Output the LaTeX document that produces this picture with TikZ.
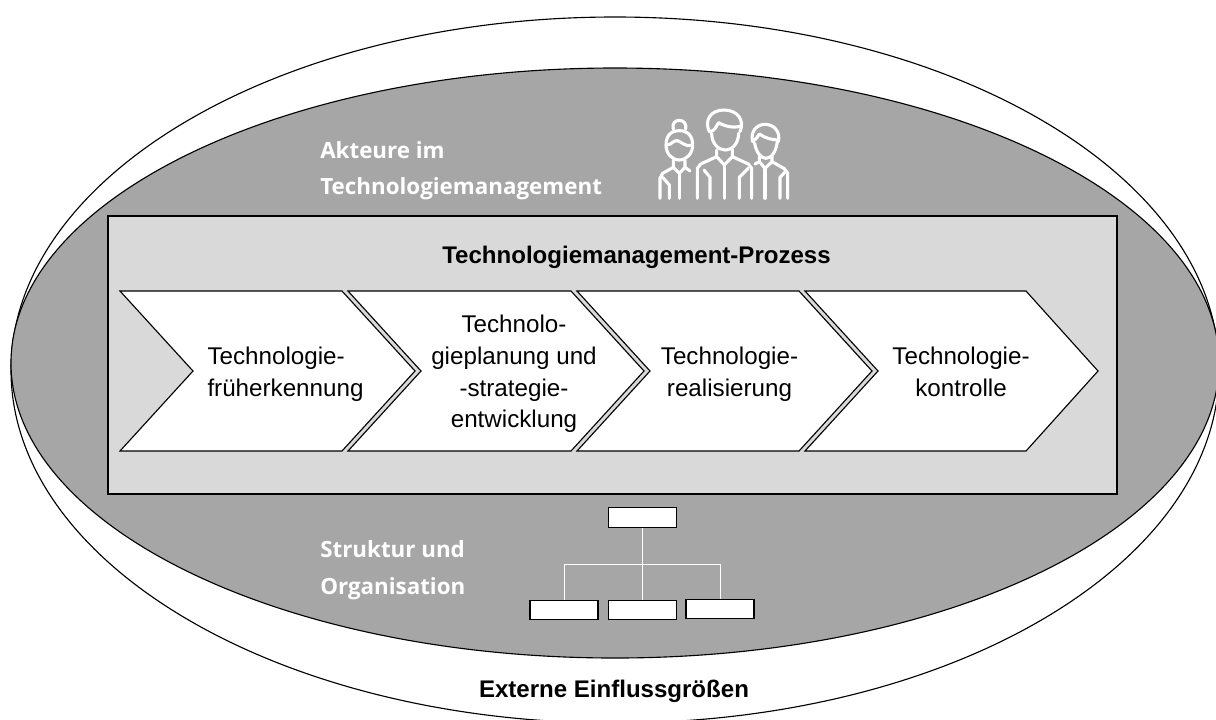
\documentclass[tikz,border=0pt]{standalone}
\usepackage{fontspec}
\setmainfont{Liberation Sans}
\newfontfamily\labelfont{Open Sans}
\usepackage{tikz}
\definecolor{ovalgray}{HTML}{A6A6A6}
\definecolor{panelgray}{HTML}{D9D9D9}
\tikzset{
  chevron/.style={draw=black,fill=white,line width=0.8pt},
  steplabel/.style={align=center,inner sep=0pt,font=\fontsize{17.2}{22.6}\selectfont},
  boldlabel/.style={font=\bfseries\fontsize{17.1}{20}\selectfont},
  whitelabel/.style={anchor=west,align=left,inner sep=0pt,text=white,font=\labelfont\bfseries\fontsize{15.9}{26}\selectfont},
  orgbox/.style={draw=black,fill=white,line width=0.8pt,minimum width=1.7cm,minimum height=0.48cm,inner sep=0pt},
  orgline/.style={draw=white,line width=0.7pt},
  person/.style={draw=white,line width=2.2pt,line cap=round,line join=round}
}
\begin{document}
\begin{tikzpicture}[x=0.025cm,y=-0.025cm]
\useasboundingbox (0,0) rectangle (1216,719);
\clip (0,0) rectangle (1216,719);
\draw [black,line width=0.8pt] (615,370) ellipse [x radius=604,y radius=353];
\filldraw [draw=black,fill=ovalgray,line width=0.8pt] (615,363) ellipse [x radius=604,y radius=295];
\filldraw [draw=black,fill=panelgray,line width=0.8pt] (108,216) rectangle (1117,494);

\node [boldlabel] (title) at (636.5,257.5) {Technologiemanagement-Prozess};

\filldraw [chevron] (120,291) -- (342,291) -- (415,371) -- (342,451) -- (120,451) -- (193,371) -- cycle;
\filldraw [chevron] (348,291) -- (571,291) -- (644,371) -- (571,451) -- (348,451) -- (421,371) -- cycle;
\filldraw [chevron] (577,291) -- (799,291) -- (872,371) -- (799,451) -- (577,451) -- (650,371) -- cycle;
\filldraw [chevron] (805,291) -- (1026,291) -- (1098,371) -- (1026,451) -- (805,451) -- (878,371) -- cycle;

\node [steplabel,align=left] (frueh) at (285.5,374) {Technologie-\\früherkennung};
\node [steplabel] (planung) at (514,374) {Technolo-\\gieplanung und\\-strategie-\\entwicklung};
\node [steplabel] (real) at (729.5,374) {Technologie-\\realisierung};
\node [steplabel] (kontrolle) at (961,372) {Technologie-\\kontrolle};

\node [whitelabel] (akteure) at (320,170.5) {Akteure im\\Technologiemanagement};
\node [whitelabel] (struktur) at (320,570) {Struktur und\\Organisation};
\node [boldlabel] (extern) at (614,691) {Externe Einflussgrößen};

\node [orgbox] (chef) at (642.5,517.5) {};
\node [orgbox] (orga) at (564,610) {};
\node [orgbox] (orgb) at (642.5,610) {};
\node [orgbox] (orgc) at (720,609) {};
\coordinate (bus) at (642.5,564);
\draw [orgline] (chef) -- (orgb);
\draw [orgline] (orga) |- (bus);
\draw [orgline] (orgc) |- (bus);

\begin{scope}[shift={(620,90)},x=0.008333cm,y=-0.008333cm,person]
\draw (160,118) .. controls (150,82) and (205,82) .. (197,118);
\draw (178,122) .. controls (150,122) and (138,140) .. (138,165) .. controls (138,190) and (155,210) .. (178,210) .. controls (200,210) and (218,190) .. (218,165) .. controls (218,140) and (205,122) .. (178,122);
\draw (140,165) .. controls (155,165) and (160,150) .. (172,152) .. controls (185,155) and (195,172) .. (216,165);
\draw (160,210) -- (160,232) -- (128,250) -- (120,265) -- (120,325);
\draw (160,232) -- (178,250) -- (195,232) -- (195,212);
\draw (195,232) -- (210,243);
\draw (148,325) -- (148,285) -- (128,262);
\draw (178,250) -- (178,325);
\draw (268,125) .. controls (252,90) and (272,60) .. (312,60) .. controls (352,60) and (375,90) .. (360,125);
\draw (268,125) .. controls (285,125) and (288,108) .. (296,98) .. controls (315,110) and (345,115) .. (362,108);
\draw (275,130) .. controls (275,160) and (295,180) .. (315,180) .. controls (338,180) and (355,160) .. (356,130);
\draw (290,180) -- (290,200) -- (242,222) -- (232,235) -- (232,325);
\draw (270,325) -- (270,262) -- (252,240);
\draw (290,200) -- (313,225) -- (337,200) -- (337,178);
\draw (337,200) -- (385,222) -- (395,235) -- (395,325);
\draw (358,325) -- (358,262) -- (385,235);
\draw (313,225) -- (313,325);
\draw (398,155) .. controls (390,125) and (410,103) .. (435,103) .. controls (462,103) and (482,125) .. (475,155);
\draw (398,155) .. controls (408,150) and (412,140) .. (418,132) .. controls (435,145) and (460,150) .. (475,150);
\draw (404,160) .. controls (408,185) and (422,205) .. (438,205) .. controls (455,205) and (468,185) .. (472,155);
\draw (418,200) -- (418,215) -- (435,235) -- (456,215) -- (456,200);
\draw (418,215) -- (405,222);
\draw (456,215) -- (493,236) -- (503,250) -- (503,325);
\draw (480,325) -- (480,262) -- (498,243);
\draw (435,235) -- (435,325);
\end{scope}
\end{tikzpicture}
\end{document}
